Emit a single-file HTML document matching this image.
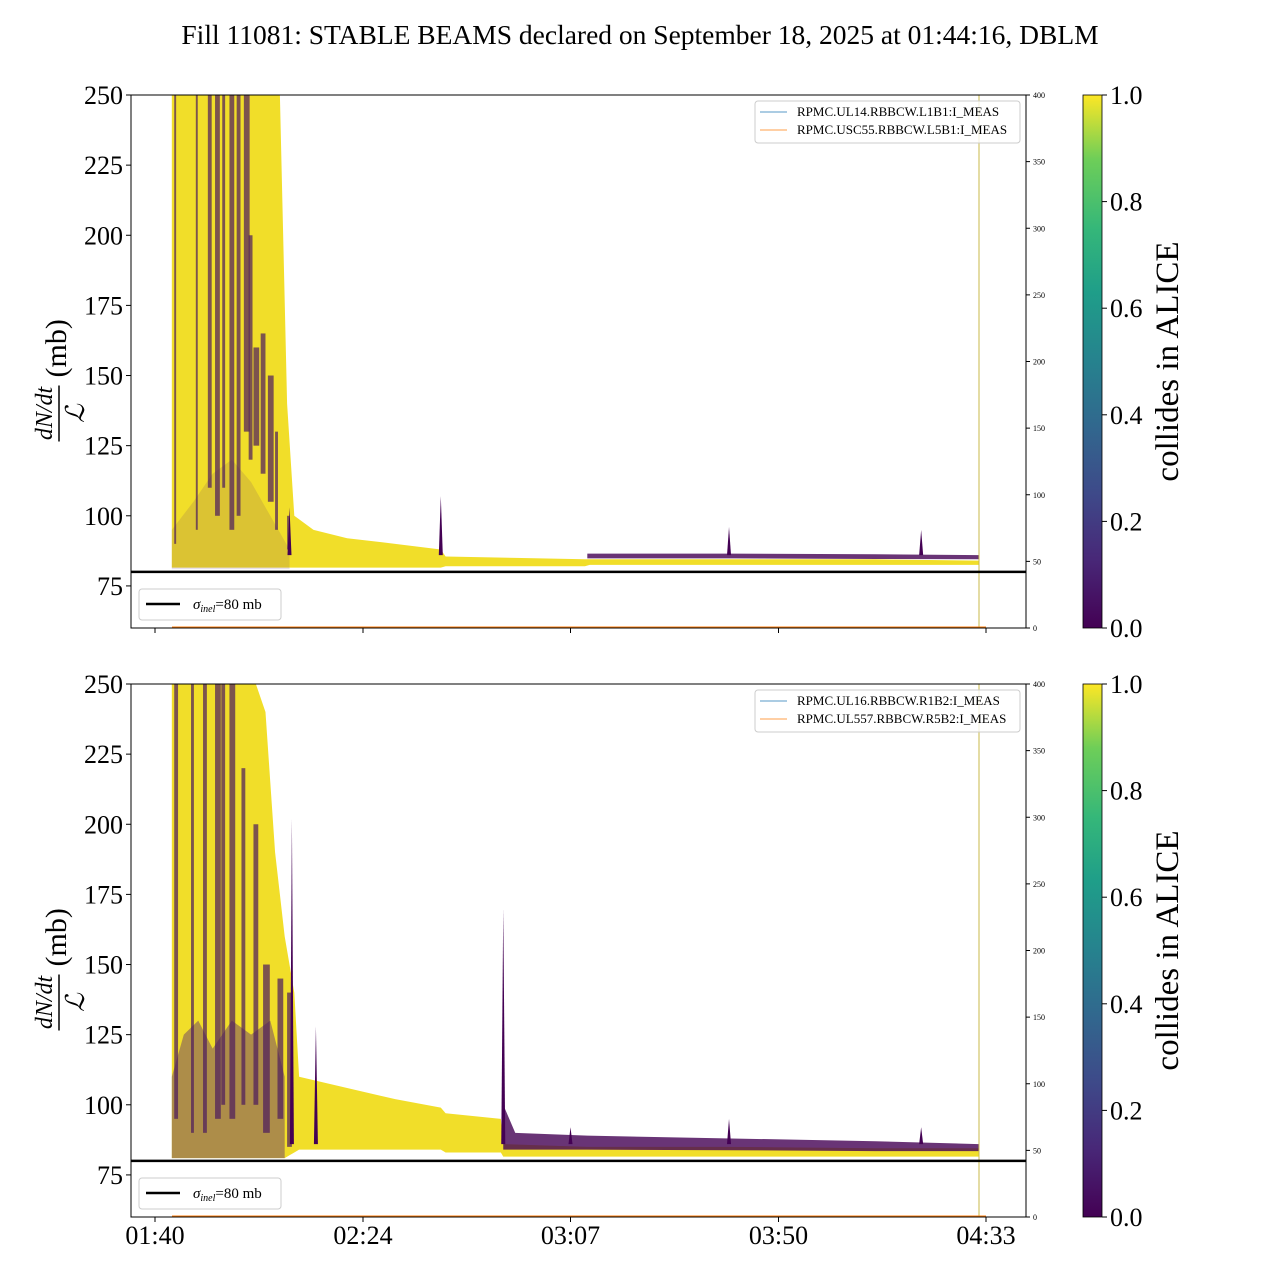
<!DOCTYPE html>
<html><head><meta charset="utf-8">
<style>
body{margin:0;background:#fff;}
svg text{font-family:"Liberation Serif",serif;}
</style></head>
<body>
<svg id="chart" width="1280" height="1280" xmlns="http://www.w3.org/2000/svg">
<defs>
<linearGradient id="vir" x1="0" y1="1" x2="0" y2="0">
<stop offset="0" stop-color="#440154"/><stop offset="0.13" stop-color="#482878"/>
<stop offset="0.25" stop-color="#3e4989"/><stop offset="0.38" stop-color="#31688e"/>
<stop offset="0.5" stop-color="#26828e"/><stop offset="0.63" stop-color="#1f9e89"/>
<stop offset="0.75" stop-color="#35b779"/><stop offset="0.88" stop-color="#6ece58"/>
<stop offset="1" stop-color="#fde725"/></linearGradient>
</defs>
<text x="640" y="44" font-size="27.5" text-anchor="middle">Fill 11081: STABLE BEAMS declared on September 18, 2025 at 01:44:16, DBLM</text>
<g id="panels"></g>
</svg>
<script>
// x in minutes since 01:40
const xTickLabels = ["01:40","02:24","03:07","03:50","04:33"];
const xTickMin = [0, 43.3, 86.5, 129.8, 173];
const yTicks = [75,100,125,150,175,200,225,250];
const rTicks = [0,50,100,150,200,250,300,350,400];
const cbTicks = [0.0,0.2,0.4,0.6,0.8,1.0];

// top panel (B1)
const topT      = [3.5, 26, 27.5, 29, 33, 40, 50, 59.5, 60.5, 75, 89.5, 90.5, 120, 150, 171.5];
const topYelHi  = [250, 250, 140, 100, 95, 92, 90, 88, 85.5, 85, 84.5, 84.5, 84.5, 84.5, 84];
const topYelLo  = [81.5, 81.5, 81.5, 81.5, 81.5, 81.5, 81.5, 81.5, 82, 82, 82, 82.5, 82.5, 82.5, 82.5];
const topPurT   = [90, 120, 150, 171.5];
const topPurHi  = [86.5, 86.5, 86.3, 86];
const topPurLo  = [84.8, 84.8, 84.6, 84.5];
const topStripeT   = [4, 8.5, 11, 12.5, 14, 15.5, 17, 18.5, 19.5, 20.5, 22, 23.5, 25, 27.5];
const topStripeDur = [0.4, 0.4, 0.8, 1.0, 0.6, 1.0, 0.8, 1.2, 0.8, 1.2, 1.0, 1.2, 0.6, 0.5];
const topStripeTop = [250, 250, 250, 250, 250, 250, 250, 250, 200, 160, 165, 150, 130, 100];
const topStripeBot = [90, 95, 110, 100, 110, 95, 100, 130, 120, 125, 115, 105, 95, 88];
const topSpikeT = [28, 59.5, 119.5, 159.5];
const topSpikeV = [103, 107, 96, 95];
const topLowT  = [3.5, 8, 12, 16, 20, 24, 28];
const topLowHi = [95, 105, 115, 120, 112, 100, 88];

// bottom panel (B2)
const botT      = [3.5, 21, 23, 25, 27, 28, 29, 30, 40, 50, 59.5, 60.5, 72, 72.5, 90, 120, 150, 171.5];
const botYelHi  = [250, 250, 240, 190, 160, 150, 140, 110, 106, 102, 99, 97, 95, 86, 85, 85, 84.5, 84.5];
const botYelLo  = [81, 81, 81, 81, 81, 82, 83, 84, 84, 84, 84, 83, 83, 81.5, 81.5, 81.5, 81.5, 81.5];
const botPurT   = [72.5, 75, 90, 120, 150, 171.5];
const botPurHi  = [100, 90, 89, 88, 87, 86];
const botPurLo  = [84, 84, 84, 83.8, 83.5, 83.5];
const botStripeT   = [4, 7.5, 10, 12.5, 13.8, 15.5, 18, 20.5, 22.5, 25.5, 27.5];
const botStripeDur = [0.8, 0.6, 0.8, 1.2, 0.8, 1.2, 0.8, 1.0, 1.4, 1.2, 1.0];
const botStripeTop = [250, 250, 250, 250, 250, 250, 220, 200, 150, 145, 140];
const botStripeBot = [95, 90, 90, 95, 100, 95, 100, 100, 90, 95, 85];
const botSpikeT = [28.5, 33.5, 72.5, 86.5, 119.5, 159.5];
const botSpikeV = [202, 128, 170, 92, 95, 92];
const botLowT  = [3.5, 6, 9, 12, 16, 20, 24, 27];
const botLowHi = [110, 125, 130, 120, 130, 125, 130, 110];

const NS = "http://www.w3.org/2000/svg";
const X0 = 155, PXPM = 831/173;
function xs(t){return X0 + t*PXPM;}
function mk(tag, attrs, parent){const e=document.createElementNS(NS,tag);for(const k in attrs)e.setAttribute(k,attrs[k]);parent.appendChild(e);return e;}

function panel(top, name, tArr, yHi, yLo, pT, pHi, pLo, sT, sDur, sTop, sBot, spT, spV, lowT, lowHi, lowOp, leg1, leg2){
  const H = 533, L=131, R=1026;
  const ys = v => top + H - (v-60)*H/190;
  const g = mk("g",{},document.getElementById("panels"));
  
  
  const clip = mk("clipPath",{id:"c"+name},g);
  mk("rect",{x:L,y:top,width:R-L,height:H},clip);
  const d = mk("g",{"clip-path":"url(#c"+name+")"},g);
  let pts=[];
  tArr.forEach((t,i)=>pts.push(xs(t)+","+ys(yHi[i])));
  for(let i=tArr.length-1;i>=0;i--)pts.push(xs(tArr[i])+","+ys(yLo[i]));
  const yb = mk("polygon",{points:pts.join(" "),fill:"#f0dc1e","fill-opacity":"0.95"},d);
  
  
  // low purple region
  pts=[];
  lowT.forEach((t,i)=>pts.push(xs(t)+","+ys(lowHi[i])));
  pts.push(xs(lowT[lowT.length-1])+","+ys(81)); pts.push(xs(lowT[0])+","+ys(81));
  const lb = mk("polygon",{points:pts.join(" "),fill:"#5b2a70","fill-opacity":lowOp},d);
  
  
  sT.forEach((t,i)=>{
    const s = mk("rect",{x:xs(t),y:ys(sTop[i]),width:sDur[i]*PXPM,height:ys(sBot[i])-ys(sTop[i]),fill:"#4a1a5e","fill-opacity":"0.7"},d);
    
    
  });
  pts=[];
  pT.forEach((t,i)=>pts.push(xs(t)+","+ys(pHi[i])));
  for(let i=pT.length-1;i>=0;i--)pts.push(xs(pT[i])+","+ys(pLo[i]));
  const pb = mk("polygon",{points:pts.join(" "),fill:"#440154","fill-opacity":"0.8"},d);
  
  
  spT.forEach((t,i)=>{
    const x=xs(t);
    const sp = mk("polygon",{points:(x-2)+","+ys(86)+" "+x+","+ys(spV[i])+" "+(x+2)+","+ys(86),fill:"#440154"},d);
    
    
  });
  mk("line",{x1:979,y1:top,x2:979,y2:top+H,stroke:"#c8b84a","stroke-width":1},g);
  mk("line",{x1:172,y1:top+H-1,x2:986,y2:top+H-1,stroke:"#ff7f0e","stroke-width":1},g);
  const sl = mk("line",{x1:L,y1:ys(80),x2:R,y2:ys(80),stroke:"#000","stroke-width":2.5},g);
  
  
  mk("rect",{x:L,y:top,width:R-L,height:H,fill:"none",stroke:"#000","stroke-width":1},g);
  yTicks.forEach(v=>{
    mk("line",{x1:L-5,y1:ys(v),x2:L,y2:ys(v),stroke:"#000"},g);
    const t=mk("text",{x:L-8,y:ys(v)+9,"font-size":26,"text-anchor":"end"},g);t.textContent=v;
    
    
  });
  rTicks.forEach(v=>{
    const yy=top+H-v*H/400;
    mk("line",{x1:R,y1:yy,x2:R+4,y2:yy,stroke:"#000"},g);
    const t=mk("text",{x:R+7,y:yy+3,"font-size":8},g);t.textContent=v;
    
    
  });
  xTickMin.forEach(m=>mk("line",{x1:xs(m),y1:top+H,x2:xs(m),y2:top+H+5,stroke:"#000"},g));
  const yl = mk("g",{transform:"translate(56,"+(top+H/2)+") rotate(-90)"},g);
  
  
  let t=mk("text",{x:-52,y:-4,"font-size":24,"font-style":"italic","text-anchor":"middle"},yl);t.textContent="dN/dt";
  mk("line",{x1:-80,y1:3,x2:-24,y2:3,stroke:"#000","stroke-width":1.5},yl);
  t=mk("text",{x:-52,y:28,"font-size":26,"font-style":"italic","text-anchor":"middle"},yl);t.textContent="ℒ";
  t=mk("text",{x:-16,y:10,"font-size":30},yl);t.textContent="(mb)";
  const lg=mk("g",{},g);
  
  
  mk("rect",{x:755,y:top+6,width:265,height:42,rx:3,fill:"#fff","fill-opacity":0.8,stroke:"#ccc"},lg);
  mk("line",{x1:760,y1:top+17,x2:787,y2:top+17,stroke:"#1f77b4","stroke-width":0.8},lg);
  mk("line",{x1:760,y1:top+35,x2:787,y2:top+35,stroke:"#ff7f0e","stroke-width":0.8},lg);
  t=mk("text",{x:797,y:top+21,"font-size":13},lg);t.textContent=leg1;
  t=mk("text",{x:797,y:top+39,"font-size":13},lg);t.textContent=leg2;
  const lg2=mk("g",{},g);
  
  
  mk("rect",{x:139,y:top+494,width:142,height:31,rx:3,fill:"#fff",stroke:"#ccc"},lg2);
  mk("line",{x1:146,y1:top+509,x2:180,y2:top+509,stroke:"#000","stroke-width":2.5},lg2);
  t=mk("text",{x:193,y:top+514,"font-size":15},lg2);
  t.innerHTML='<tspan font-style="italic">σ</tspan><tspan font-size="10" dy="3" font-style="italic">inel</tspan><tspan dy="-3">=80 mb</tspan>';
  const cb=mk("g",{},g);
  
  
  mk("rect",{x:1083,y:top,width:19,height:H,fill:"url(#vir)",stroke:"#000","stroke-width":0.8},cb);
  cbTicks.forEach(v=>{
    const yy=top+H-v*H;
    mk("line",{x1:1102,y1:yy,x2:1107,y2:yy,stroke:"#000"},cb);
    const tt=mk("text",{x:1110,y:yy+9,"font-size":26},cb);tt.textContent=v.toFixed(1);
  });
  t=mk("text",{x:0,y:0,"font-size":33,"text-anchor":"middle",transform:"translate(1178,"+(top+H/2)+") rotate(-90)"},cb);
  t.textContent="collides in ALICE";
  return g;
}
panel(95,"panel-b1",topT,topYelHi,topYelLo,topPurT,topPurHi,topPurLo,topStripeT,topStripeDur,topStripeTop,topStripeBot,topSpikeT,topSpikeV,topLowT,topLowHi,0.15,"RPMC.UL14.RBBCW.L1B1:I_MEAS","RPMC.USC55.RBBCW.L5B1:I_MEAS");
panel(684,"panel-b2",botT,botYelHi,botYelLo,botPurT,botPurHi,botPurLo,botStripeT,botStripeDur,botStripeTop,botStripeBot,botSpikeT,botSpikeV,botLowT,botLowHi,0.45,"RPMC.UL16.RBBCW.R1B2:I_MEAS","RPMC.UL557.RBBCW.R5B2:I_MEAS");
const svg=document.getElementById("chart");
xTickLabels.forEach((l,i)=>{
  const t=mk("text",{x:xs(xTickMin[i]),y:1244,"font-size":26,"text-anchor":"middle"},svg);
  t.textContent=l;
  
  
});
</script>
</body></html>
